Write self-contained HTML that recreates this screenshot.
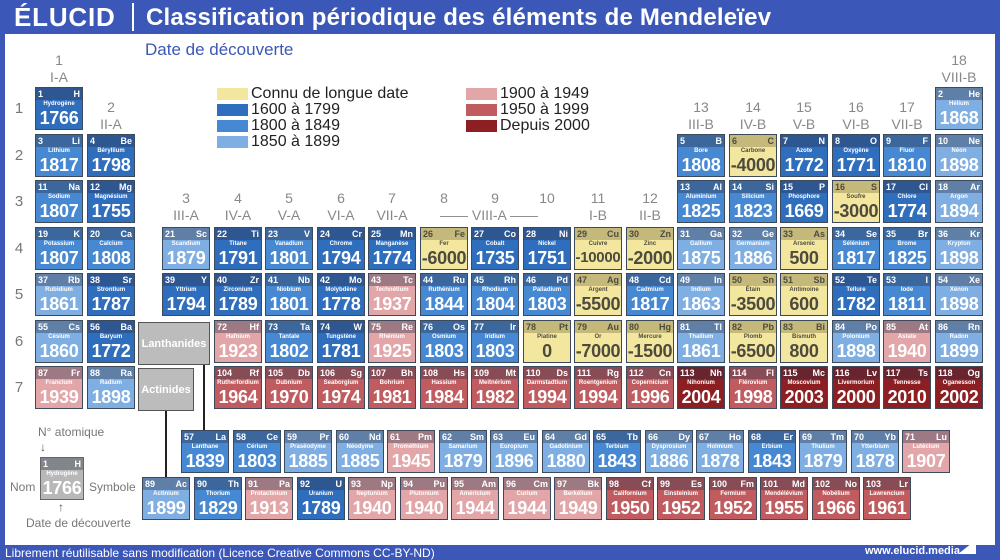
<!DOCTYPE html>
<html><head><meta charset="utf-8">
<style>
*{margin:0;padding:0;box-sizing:border-box}
body{width:1000px;height:560px;position:relative;overflow:hidden;background:#3b57b8;font-family:"Liberation Sans",sans-serif}
#w{position:absolute;left:5px;top:34px;width:990px;height:511px;background:#fff}
.t{position:absolute;white-space:nowrap}
.c{position:absolute;width:48px;height:43px;border:1px solid #3d4a5c;overflow:hidden;color:#fff;text-align:center}
.c .h{position:absolute;left:0;top:0;right:0;height:12px;background:rgba(45,50,70,.38)}
.c i{position:absolute;left:2px;top:0;font:bold 9px/12px "Liberation Sans",sans-serif;font-style:normal}
.c b{position:absolute;right:2px;top:0;font:bold 9px/12px "Liberation Sans",sans-serif}
.c em{position:absolute;left:0;right:0;top:12px;font:bold 6px/8px "Liberation Sans",sans-serif;font-style:normal;white-space:nowrap}
.c u{position:absolute;left:-4px;right:-4px;top:19px;font:bold 18px/22px "Liberation Sans",sans-serif;text-decoration:none;letter-spacing:-.3px}
.y{background:#f3e7a0;color:#4d4b3e}.b1{background:#2f6dbd}.b2{background:#4688d1}.b3{background:#7eaee2}
.r1{background:#e2a5a8}.r2{background:#c05c5f}.r3{background:#8d1e21}
.y .h{background:rgba(90,80,40,.3)}
.sw{position:absolute;width:31px;height:12px}
.lg{position:absolute;font-size:16px;color:#222;white-space:nowrap;line-height:17px}
.gl{position:absolute;color:#888;font-size:14px;text-align:center;width:52px;line-height:17px}
.pn{position:absolute;left:11px;width:16px;color:#777;font-size:15px;text-align:center}
.gb{position:absolute;background:#bcbcbc;border:1px solid #555;color:#fff;font:bold 11px "Liberation Sans",sans-serif;display:flex;align-items:center;justify-content:center}
.ln{position:absolute;background:#222;width:2px}
</style></head><body>
<div id="w"></div>
<div class="t" style="left:14px;top:2px;color:#fff;font:bold 26px/30px 'Liberation Sans',sans-serif;letter-spacing:.8px">ÉLUCID</div>
<div style="position:absolute;left:132px;top:3px;width:2px;height:28px;background:#fff"></div>
<div class="t" style="left:146px;top:4px;color:#fff;font:bold 24px/27px 'Liberation Sans',sans-serif;letter-spacing:.2px">Classification périodique des éléments de Mendeleïev</div>
<div class="t" style="left:145px;top:40px;color:#3b57b8;font-size:17px">Date de découverte</div>
<div class="t" style="left:5px;top:546px;color:#fff;font-size:12px">Librement réutilisable sans modification (Licence Creative Commons CC-BY-ND)</div>
<div class="t" style="left:865px;top:545px;color:#fff;font-size:11px;font-weight:bold">www.elucid.media</div>
<div style="position:absolute;left:958px;top:540px;width:0;height:0;border-left:18px solid transparent;border-bottom:14px solid #fff"></div>

<!-- legend -->
<div class="sw" style="left:217px;top:88px;background:#f3e7a0"></div><div class="lg" style="left:251px;top:85px">Connu de longue date</div>
<div class="sw" style="left:217px;top:104px;background:#2f6dbd"></div><div class="lg" style="left:251px;top:101px">1600 à 1799</div>
<div class="sw" style="left:217px;top:120px;background:#4688d1"></div><div class="lg" style="left:251px;top:117px">1800 à 1849</div>
<div class="sw" style="left:217px;top:136px;background:#7eaee2"></div><div class="lg" style="left:251px;top:133px">1850 à 1899</div>
<div class="sw" style="left:466px;top:88px;background:#e2a5a8"></div><div class="lg" style="left:500px;top:85px">1900 à 1949</div>
<div class="sw" style="left:466px;top:104px;background:#c05c5f"></div><div class="lg" style="left:500px;top:101px">1950 à 1999</div>
<div class="sw" style="left:466px;top:120px;background:#8d1e21"></div><div class="lg" style="left:500px;top:117px">Depuis 2000</div>

<!-- period numbers -->
<div class="pn" style="top:100px">1</div><div class="pn" style="top:147px">2</div><div class="pn" style="top:193px">3</div><div class="pn" style="top:240px">4</div><div class="pn" style="top:286px">5</div><div class="pn" style="top:333px">6</div><div class="pn" style="top:379px">7</div>

<!-- group labels -->
<div class="gl" style="left:33px;top:52px">1<br>I-A</div>
<div class="gl" style="left:85px;top:99px">2<br>II-A</div>
<div class="gl" style="left:160px;top:190px">3<br>III-A</div>
<div class="gl" style="left:212px;top:190px">4<br>IV-A</div>
<div class="gl" style="left:263px;top:190px">5<br>V-A</div>
<div class="gl" style="left:315px;top:190px">6<br>VI-A</div>
<div class="gl" style="left:366px;top:190px">7<br>VII-A</div>
<div class="gl" style="left:418px;top:190px">8</div>
<div class="gl" style="left:469px;top:190px">9</div>
<div class="gl" style="left:521px;top:190px">10</div>
<div class="t" style="left:440px;top:207px;color:#888;font-size:14px">—— VIII-A ——</div>
<div class="gl" style="left:572px;top:190px">11<br>I-B</div>
<div class="gl" style="left:624px;top:190px">12<br>II-B</div>
<div class="gl" style="left:675px;top:99px">13<br>III-B</div>
<div class="gl" style="left:727px;top:99px">14<br>IV-B</div>
<div class="gl" style="left:778px;top:99px">15<br>V-B</div>
<div class="gl" style="left:830px;top:99px">16<br>VI-B</div>
<div class="gl" style="left:881px;top:99px">17<br>VII-B</div>
<div class="gl" style="left:933px;top:52px">18<br>VIII-B</div>

<!-- Lanthanides/Actinides -->
<div class="ln" style="left:203px;top:364px;height:67px"></div>
<div class="ln" style="left:165px;top:411px;height:66px"></div>
<div class="gb" style="left:138px;top:322px;width:72px;height:43px">Lanthanides</div>
<div class="gb" style="left:138px;top:368px;width:56px;height:43px">Actinides</div>

<!-- key -->
<div class="t" style="left:38px;top:425px;color:#777;font-size:12px">N° atomique</div>
<div class="t" style="left:10px;top:480px;color:#777;font-size:12px">Nom</div>
<div class="t" style="left:89px;top:480px;color:#777;font-size:12px">Symbole</div>
<div class="t" style="left:26px;top:516px;color:#777;font-size:12px">Date de découverte</div>
<div class="t" style="left:40px;top:440px;color:#555;font-size:12px">↓</div>
<div class="t" style="left:58px;top:500px;color:#555;font-size:12px">↑</div>
<div class="c" style="left:40px;top:457px;width:44px;background:#b8b8b8;border-color:#666"><span class="h"></span><i>1</i><b>H</b><em>Hydrogène</em><u>1766</u></div>

<!-- Row 1 -->
<div class="c b1" style="left:35px;top:87px"><span class="h"></span><i>1</i><b>H</b><em>Hydrogène</em><u>1766</u></div>
<div class="c b3" style="left:935px;top:87px"><span class="h"></span><i>2</i><b>He</b><em>Hélium</em><u>1868</u></div>
<!-- Row 2 -->
<div class="c b2" style="left:35px;top:134px"><span class="h"></span><i>3</i><b>Li</b><em>Lithium</em><u>1817</u></div>
<div class="c b1" style="left:87px;top:134px"><span class="h"></span><i>4</i><b>Be</b><em>Béryllium</em><u>1798</u></div>
<div class="c b2" style="left:677px;top:134px"><span class="h"></span><i>5</i><b>B</b><em>Bore</em><u>1808</u></div>
<div class="c y" style="left:729px;top:134px"><span class="h"></span><i>6</i><b>C</b><em>Carbone</em><u>-4000</u></div>
<div class="c b1" style="left:780px;top:134px"><span class="h"></span><i>7</i><b>N</b><em>Azote</em><u>1772</u></div>
<div class="c b1" style="left:832px;top:134px"><span class="h"></span><i>8</i><b>O</b><em>Oxygène</em><u>1771</u></div>
<div class="c b2" style="left:883px;top:134px"><span class="h"></span><i>9</i><b>F</b><em>Fluor</em><u>1810</u></div>
<div class="c b3" style="left:935px;top:134px"><span class="h"></span><i>10</i><b>Ne</b><em>Néon</em><u>1898</u></div>
<!-- Row 3 -->
<div class="c b2" style="left:35px;top:180px"><span class="h"></span><i>11</i><b>Na</b><em>Sodium</em><u>1807</u></div>
<div class="c b1" style="left:87px;top:180px"><span class="h"></span><i>12</i><b>Mg</b><em>Magnésium</em><u>1755</u></div>
<div class="c b2" style="left:677px;top:180px"><span class="h"></span><i>13</i><b>Al</b><em>Aluminium</em><u>1825</u></div>
<div class="c b2" style="left:729px;top:180px"><span class="h"></span><i>14</i><b>Si</b><em>Silicium</em><u>1823</u></div>
<div class="c b1" style="left:780px;top:180px"><span class="h"></span><i>15</i><b>P</b><em>Phosphore</em><u>1669</u></div>
<div class="c y" style="left:832px;top:180px"><span class="h"></span><i>16</i><b>S</b><em>Soufre</em><u>-3000</u></div>
<div class="c b1" style="left:883px;top:180px"><span class="h"></span><i>17</i><b>Cl</b><em>Chlore</em><u>1774</u></div>
<div class="c b3" style="left:935px;top:180px"><span class="h"></span><i>18</i><b>Ar</b><em>Argon</em><u>1894</u></div>
<!-- Row 4 -->
<div class="c b2" style="left:35px;top:227px"><span class="h"></span><i>19</i><b>K</b><em>Potassium</em><u>1807</u></div>
<div class="c b2" style="left:87px;top:227px"><span class="h"></span><i>20</i><b>Ca</b><em>Calcium</em><u>1808</u></div>
<div class="c b3" style="left:162px;top:227px"><span class="h"></span><i>21</i><b>Sc</b><em>Scandium</em><u>1879</u></div>
<div class="c b1" style="left:214px;top:227px"><span class="h"></span><i>22</i><b>Ti</b><em>Titane</em><u>1791</u></div>
<div class="c b2" style="left:265px;top:227px"><span class="h"></span><i>23</i><b>V</b><em>Vanadium</em><u>1801</u></div>
<div class="c b1" style="left:317px;top:227px"><span class="h"></span><i>24</i><b>Cr</b><em>Chrome</em><u>1794</u></div>
<div class="c b1" style="left:368px;top:227px"><span class="h"></span><i>25</i><b>Mn</b><em>Manganèse</em><u>1774</u></div>
<div class="c y" style="left:420px;top:227px"><span class="h"></span><i>26</i><b>Fe</b><em>Fer</em><u>-6000</u></div>
<div class="c b1" style="left:471px;top:227px"><span class="h"></span><i>27</i><b>Co</b><em>Cobalt</em><u>1735</u></div>
<div class="c b1" style="left:523px;top:227px"><span class="h"></span><i>28</i><b>Ni</b><em>Nickel</em><u>1751</u></div>
<div class="c y" style="left:574px;top:227px"><span class="h"></span><i>29</i><b>Cu</b><em>Cuivre</em><u style="font-size:15px">-10000</u></div>
<div class="c y" style="left:626px;top:227px"><span class="h"></span><i>30</i><b>Zn</b><em>Zinc</em><u>-2000</u></div>
<div class="c b3" style="left:677px;top:227px"><span class="h"></span><i>31</i><b>Ga</b><em>Gallium</em><u>1875</u></div>
<div class="c b3" style="left:729px;top:227px"><span class="h"></span><i>32</i><b>Ge</b><em>Germanium</em><u>1886</u></div>
<div class="c y" style="left:780px;top:227px"><span class="h"></span><i>33</i><b>As</b><em>Arsenic</em><u>500</u></div>
<div class="c b2" style="left:832px;top:227px"><span class="h"></span><i>34</i><b>Se</b><em>Sélénium</em><u>1817</u></div>
<div class="c b2" style="left:883px;top:227px"><span class="h"></span><i>35</i><b>Br</b><em>Brome</em><u>1825</u></div>
<div class="c b3" style="left:935px;top:227px"><span class="h"></span><i>36</i><b>Kr</b><em>Krypton</em><u>1898</u></div>
<!-- Row 5 -->
<div class="c b3" style="left:35px;top:273px"><span class="h"></span><i>37</i><b>Rb</b><em>Rubidium</em><u>1861</u></div>
<div class="c b1" style="left:87px;top:273px"><span class="h"></span><i>38</i><b>Sr</b><em>Strontium</em><u>1787</u></div>
<div class="c b1" style="left:162px;top:273px"><span class="h"></span><i>39</i><b>Y</b><em>Yttrium</em><u>1794</u></div>
<div class="c b1" style="left:214px;top:273px"><span class="h"></span><i>40</i><b>Zr</b><em>Zirconium</em><u>1789</u></div>
<div class="c b2" style="left:265px;top:273px"><span class="h"></span><i>41</i><b>Nb</b><em>Niobium</em><u>1801</u></div>
<div class="c b1" style="left:317px;top:273px"><span class="h"></span><i>42</i><b>Mo</b><em>Molybdène</em><u>1778</u></div>
<div class="c r1" style="left:368px;top:273px"><span class="h"></span><i>43</i><b>Tc</b><em>Technétium</em><u>1937</u></div>
<div class="c b2" style="left:420px;top:273px"><span class="h"></span><i>44</i><b>Ru</b><em>Ruthénium</em><u>1844</u></div>
<div class="c b2" style="left:471px;top:273px"><span class="h"></span><i>45</i><b>Rh</b><em>Rhodium</em><u>1804</u></div>
<div class="c b2" style="left:523px;top:273px"><span class="h"></span><i>46</i><b>Pd</b><em>Palladium</em><u>1803</u></div>
<div class="c y" style="left:574px;top:273px"><span class="h"></span><i>47</i><b>Ag</b><em>Argent</em><u>-5500</u></div>
<div class="c b2" style="left:626px;top:273px"><span class="h"></span><i>48</i><b>Cd</b><em>Cadmium</em><u>1817</u></div>
<div class="c b3" style="left:677px;top:273px"><span class="h"></span><i>49</i><b>In</b><em>Indium</em><u>1863</u></div>
<div class="c y" style="left:729px;top:273px"><span class="h"></span><i>50</i><b>Sn</b><em>Étain</em><u>-3500</u></div>
<div class="c y" style="left:780px;top:273px"><span class="h"></span><i>51</i><b>Sb</b><em>Antimoine</em><u>600</u></div>
<div class="c b1" style="left:832px;top:273px"><span class="h"></span><i>52</i><b>Te</b><em>Tellure</em><u>1782</u></div>
<div class="c b2" style="left:883px;top:273px"><span class="h"></span><i>53</i><b>I</b><em>Iode</em><u>1811</u></div>
<div class="c b3" style="left:935px;top:273px"><span class="h"></span><i>54</i><b>Xe</b><em>Xénon</em><u>1898</u></div>
<!-- Row 6 -->
<div class="c b3" style="left:35px;top:320px"><span class="h"></span><i>55</i><b>Cs</b><em>Césium</em><u>1860</u></div>
<div class="c b1" style="left:87px;top:320px"><span class="h"></span><i>56</i><b>Ba</b><em>Baryum</em><u>1772</u></div>
<div class="c r1" style="left:214px;top:320px"><span class="h"></span><i>72</i><b>Hf</b><em>Hafnium</em><u>1923</u></div>
<div class="c b2" style="left:265px;top:320px"><span class="h"></span><i>73</i><b>Ta</b><em>Tantale</em><u>1802</u></div>
<div class="c b1" style="left:317px;top:320px"><span class="h"></span><i>74</i><b>W</b><em>Tungstène</em><u>1781</u></div>
<div class="c r1" style="left:368px;top:320px"><span class="h"></span><i>75</i><b>Re</b><em>Rhénium</em><u>1925</u></div>
<div class="c b2" style="left:420px;top:320px"><span class="h"></span><i>76</i><b>Os</b><em>Osmium</em><u>1803</u></div>
<div class="c b2" style="left:471px;top:320px"><span class="h"></span><i>77</i><b>Ir</b><em>Iridium</em><u>1803</u></div>
<div class="c y" style="left:523px;top:320px"><span class="h"></span><i>78</i><b>Pt</b><em>Platine</em><u>0</u></div>
<div class="c y" style="left:574px;top:320px"><span class="h"></span><i>79</i><b>Au</b><em>Or</em><u>-7000</u></div>
<div class="c y" style="left:626px;top:320px"><span class="h"></span><i>80</i><b>Hg</b><em>Mercure</em><u>-1500</u></div>
<div class="c b3" style="left:677px;top:320px"><span class="h"></span><i>81</i><b>Tl</b><em>Thallium</em><u>1861</u></div>
<div class="c y" style="left:729px;top:320px"><span class="h"></span><i>82</i><b>Pb</b><em>Plomb</em><u>-6500</u></div>
<div class="c y" style="left:780px;top:320px"><span class="h"></span><i>83</i><b>Bi</b><em>Bismuth</em><u>800</u></div>
<div class="c b3" style="left:832px;top:320px"><span class="h"></span><i>84</i><b>Po</b><em>Polonium</em><u>1898</u></div>
<div class="c r1" style="left:883px;top:320px"><span class="h"></span><i>85</i><b>At</b><em>Astate</em><u>1940</u></div>
<div class="c b3" style="left:935px;top:320px"><span class="h"></span><i>86</i><b>Rn</b><em>Radon</em><u>1899</u></div>
<!-- Row 7 -->
<div class="c r1" style="left:35px;top:366px"><span class="h"></span><i>87</i><b>Fr</b><em>Francium</em><u>1939</u></div>
<div class="c b3" style="left:87px;top:366px"><span class="h"></span><i>88</i><b>Ra</b><em>Radium</em><u>1898</u></div>
<div class="c r2" style="left:214px;top:366px"><span class="h"></span><i>104</i><b>Rf</b><em>Rutherfordium</em><u>1964</u></div>
<div class="c r2" style="left:265px;top:366px"><span class="h"></span><i>105</i><b>Db</b><em>Dubnium</em><u>1970</u></div>
<div class="c r2" style="left:317px;top:366px"><span class="h"></span><i>106</i><b>Sg</b><em>Seaborgium</em><u>1974</u></div>
<div class="c r2" style="left:368px;top:366px"><span class="h"></span><i>107</i><b>Bh</b><em>Bohrium</em><u>1981</u></div>
<div class="c r2" style="left:420px;top:366px"><span class="h"></span><i>108</i><b>Hs</b><em>Hassium</em><u>1984</u></div>
<div class="c r2" style="left:471px;top:366px"><span class="h"></span><i>109</i><b>Mt</b><em>Meitnérium</em><u>1982</u></div>
<div class="c r2" style="left:523px;top:366px"><span class="h"></span><i>110</i><b>Ds</b><em>Darmstadtium</em><u>1994</u></div>
<div class="c r2" style="left:574px;top:366px"><span class="h"></span><i>111</i><b>Rg</b><em>Roentgenium</em><u>1994</u></div>
<div class="c r2" style="left:626px;top:366px"><span class="h"></span><i>112</i><b>Cn</b><em>Copernicium</em><u>1996</u></div>
<div class="c r3" style="left:677px;top:366px"><span class="h"></span><i>113</i><b>Nh</b><em>Nihonium</em><u>2004</u></div>
<div class="c r2" style="left:729px;top:366px"><span class="h"></span><i>114</i><b>Fl</b><em>Flérovium</em><u>1998</u></div>
<div class="c r3" style="left:780px;top:366px"><span class="h"></span><i>115</i><b>Mc</b><em>Moscovium</em><u>2003</u></div>
<div class="c r3" style="left:832px;top:366px"><span class="h"></span><i>116</i><b>Lv</b><em>Livermorium</em><u>2000</u></div>
<div class="c r3" style="left:883px;top:366px"><span class="h"></span><i>117</i><b>Ts</b><em>Tennesse</em><u>2010</u></div>
<div class="c r3" style="left:935px;top:366px"><span class="h"></span><i>118</i><b>Og</b><em>Oganesson</em><u>2002</u></div>
<!-- Lanthanides -->
<div class="c b2" style="left:181px;top:430px"><span class="h"></span><i>57</i><b>La</b><em>Lanthane</em><u>1839</u></div>
<div class="c b2" style="left:233px;top:430px"><span class="h"></span><i>58</i><b>Ce</b><em>Cérium</em><u>1803</u></div>
<div class="c b3" style="left:284px;top:430px"><span class="h"></span><i>59</i><b>Pr</b><em>Praséodyme</em><u>1885</u></div>
<div class="c b3" style="left:336px;top:430px"><span class="h"></span><i>60</i><b>Nd</b><em>Néodyme</em><u>1885</u></div>
<div class="c r1" style="left:387px;top:430px"><span class="h"></span><i>61</i><b>Pm</b><em>Prométhium</em><u>1945</u></div>
<div class="c b3" style="left:439px;top:430px"><span class="h"></span><i>62</i><b>Sm</b><em>Samarium</em><u>1879</u></div>
<div class="c b3" style="left:490px;top:430px"><span class="h"></span><i>63</i><b>Eu</b><em>Europium</em><u>1896</u></div>
<div class="c b3" style="left:542px;top:430px"><span class="h"></span><i>64</i><b>Gd</b><em>Gadolinium</em><u>1880</u></div>
<div class="c b2" style="left:593px;top:430px"><span class="h"></span><i>65</i><b>Tb</b><em>Terbium</em><u>1843</u></div>
<div class="c b3" style="left:645px;top:430px"><span class="h"></span><i>66</i><b>Dy</b><em>Dysprosium</em><u>1886</u></div>
<div class="c b3" style="left:696px;top:430px"><span class="h"></span><i>67</i><b>Ho</b><em>Holmium</em><u>1878</u></div>
<div class="c b2" style="left:748px;top:430px"><span class="h"></span><i>68</i><b>Er</b><em>Erbium</em><u>1843</u></div>
<div class="c b3" style="left:799px;top:430px"><span class="h"></span><i>69</i><b>Tm</b><em>Thulium</em><u>1879</u></div>
<div class="c b3" style="left:851px;top:430px"><span class="h"></span><i>70</i><b>Yb</b><em>Ytterbium</em><u>1878</u></div>
<div class="c r1" style="left:902px;top:430px"><span class="h"></span><i>71</i><b>Lu</b><em>Lutécium</em><u>1907</u></div>
<!-- Actinides -->
<div class="c b3" style="left:142px;top:477px"><span class="h"></span><i>89</i><b>Ac</b><em>Actinium</em><u>1899</u></div>
<div class="c b2" style="left:194px;top:477px"><span class="h"></span><i>90</i><b>Th</b><em>Thorium</em><u>1829</u></div>
<div class="c r1" style="left:245px;top:477px"><span class="h"></span><i>91</i><b>Pa</b><em>Protactinium</em><u>1913</u></div>
<div class="c b1" style="left:297px;top:477px"><span class="h"></span><i>92</i><b>U</b><em>Uranium</em><u>1789</u></div>
<div class="c r1" style="left:348px;top:477px"><span class="h"></span><i>93</i><b>Np</b><em>Neptunium</em><u>1940</u></div>
<div class="c r1" style="left:400px;top:477px"><span class="h"></span><i>94</i><b>Pu</b><em>Plutonium</em><u>1940</u></div>
<div class="c r1" style="left:451px;top:477px"><span class="h"></span><i>95</i><b>Am</b><em>Américium</em><u>1944</u></div>
<div class="c r1" style="left:503px;top:477px"><span class="h"></span><i>96</i><b>Cm</b><em>Curium</em><u>1944</u></div>
<div class="c r1" style="left:554px;top:477px"><span class="h"></span><i>97</i><b>Bk</b><em>Berkélium</em><u>1949</u></div>
<div class="c r2" style="left:606px;top:477px"><span class="h"></span><i>98</i><b>Cf</b><em>Californium</em><u>1950</u></div>
<div class="c r2" style="left:657px;top:477px"><span class="h"></span><i>99</i><b>Es</b><em>Einsteinium</em><u>1952</u></div>
<div class="c r2" style="left:709px;top:477px"><span class="h"></span><i>100</i><b>Fm</b><em>Fermium</em><u>1952</u></div>
<div class="c r2" style="left:760px;top:477px"><span class="h"></span><i>101</i><b>Md</b><em>Mendélévium</em><u>1955</u></div>
<div class="c r2" style="left:812px;top:477px"><span class="h"></span><i>102</i><b>No</b><em>Nobélium</em><u>1966</u></div>
<div class="c r2" style="left:863px;top:477px"><span class="h"></span><i>103</i><b>Lr</b><em>Lawrencium</em><u>1961</u></div>
</body></html>
